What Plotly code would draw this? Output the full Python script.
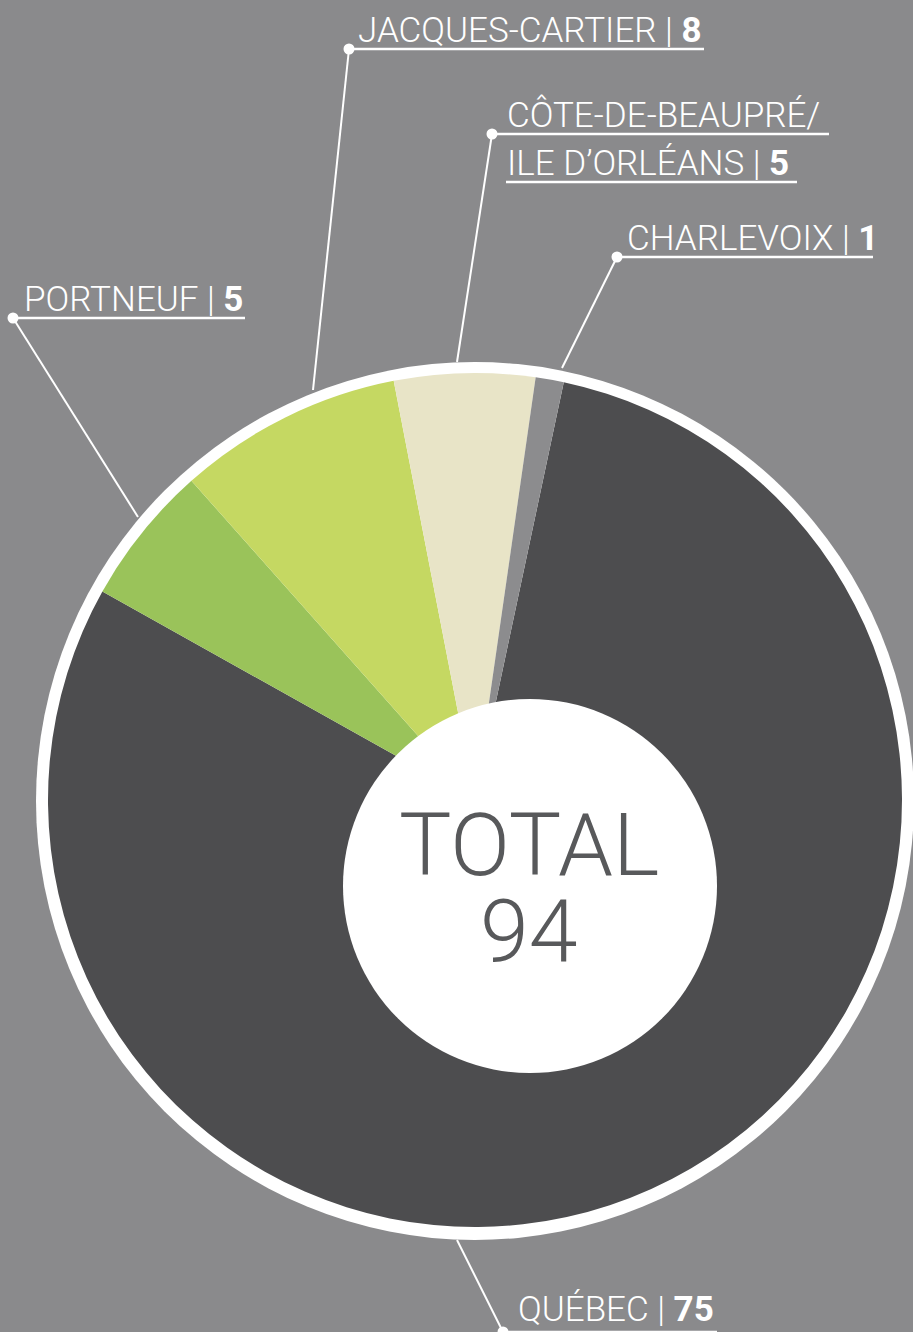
import plotly.graph_objects as go

W, H = 913, 1332

# data
regions = ["QUÉBEC", "PORTNEUF", "JACQUES-CARTIER", "CÔTE-DE-BEAUPRÉ/ILE D’ORLÉANS", "CHARLEVOIX"]
counts = [75, 5, 8, 5, 1]
colors = ["#4d4d4f", "#9ac35a", "#c5d862", "#e8e4c7", "#8c8c8e"]
total = sum(counts)

BG = "#8a8a8c"
FONT = "Roboto"


def px(x):
    return x / W


def py(y):
    return 1 - y / H


# pie geometry (pixels)
cx, cy, r = 475, 800, 427

fig = go.Figure(go.Pie(
    labels=regions, values=counts, sort=False, direction="clockwise",
    rotation=12, textinfo="none", hoverinfo="label+value",
    marker=dict(colors=colors, line=dict(width=0)),
    domain=dict(x=[px(cx - r), px(cx + r)], y=[py(cy + r), py(cy - r)]),
    showlegend=False,
))

shapes = []
# white outer ring (below the pie)
ro = 439
shapes.append(dict(type="circle", layer="below", xref="paper", yref="paper",
                   x0=px(cx - ro), x1=px(cx + ro), y0=py(cy + ro + 1), y1=py(cy - ro + 1),
                   fillcolor="white", line=dict(width=0)))
# white centre disc (offset from pie centre)
hx, hy, hr = 530, 886, 187
shapes.append(dict(type="circle", layer="above", xref="paper", yref="paper",
                   x0=px(hx - hr), x1=px(hx + hr), y0=py(hy + hr), y1=py(hy - hr),
                   fillcolor="white", line=dict(width=0)))

# label callouts: (lines of text, text x, underline y per line, underline end x, dot, leader end)
callouts = [
    (["JACQUES-CARTIER | <b>8</b>"], 357, [49], [704], (349, 49), (313, 390)),
    (["CÔTE-DE-BEAUPRÉ/", "ILE D’ORLÉANS | <b>5</b>"], 506, [134, 182], [829, 797], (492, 134), (457, 362)),
    (["CHARLEVOIX | <b>1</b>"], 626, [257], [873], (617, 257), (562, 368)),
    (["PORTNEUF | <b>5</b>"], 23, [318], [245], (13, 318), (138, 517)),
    (["QUÉBEC | <b>75</b>"], 517, [1332], [717], (503, 1332), (457, 1240)),
]

annotations = []
for lines, tx, uys, uxs, dot, end in callouts:
    for i, (txt, uy, ux) in enumerate(zip(lines, uys, uxs)):
        annotations.append(dict(
            text=txt, x=px(tx), y=py(min(uy + 3, H - 1)), xref="paper", yref="paper",
            xanchor="left", yanchor="bottom", showarrow=False,
            font=dict(family=FONT, size=35, color="white", weight=300),
            borderpad=0,
        ))
        x0 = dot[0] if i == 0 else tx
        shapes.append(dict(type="line", xref="paper", yref="paper",
                           x0=px(x0), x1=px(ux), y0=py(uy), y1=py(uy),
                           line=dict(color="white", width=2.5)))
    shapes.append(dict(type="line", xref="paper", yref="paper",
                       x0=px(dot[0]), x1=px(end[0]), y0=py(dot[1]), y1=py(end[1]),
                       line=dict(color="white", width=2)))
    d = 5.5
    shapes.append(dict(type="circle", xref="paper", yref="paper",
                       x0=px(dot[0] - d), x1=px(dot[0] + d), y0=py(dot[1] + d), y1=py(dot[1] - d),
                       fillcolor="white", line=dict(width=0)))

# total in the centre
for txt, ty in [("TOTAL", 844), (str(total), 931)]:
    annotations.append(dict(
        text=txt, x=px(hx - 1), y=py(ty), xref="paper", yref="paper",
        xanchor="center", yanchor="middle", showarrow=False, height=84,
        font=dict(family=FONT, size=88, color="#58595b", weight=300),
    ))

fig.update_layout(
    width=W, height=H, margin=dict(l=0, r=0, t=0, b=0),
    paper_bgcolor=BG, plot_bgcolor=BG,
    shapes=shapes, annotations=annotations,
)

fig.write_html("out.html", config={"displayModeBar": False},
               post_script="document.body.style.margin='0';")
